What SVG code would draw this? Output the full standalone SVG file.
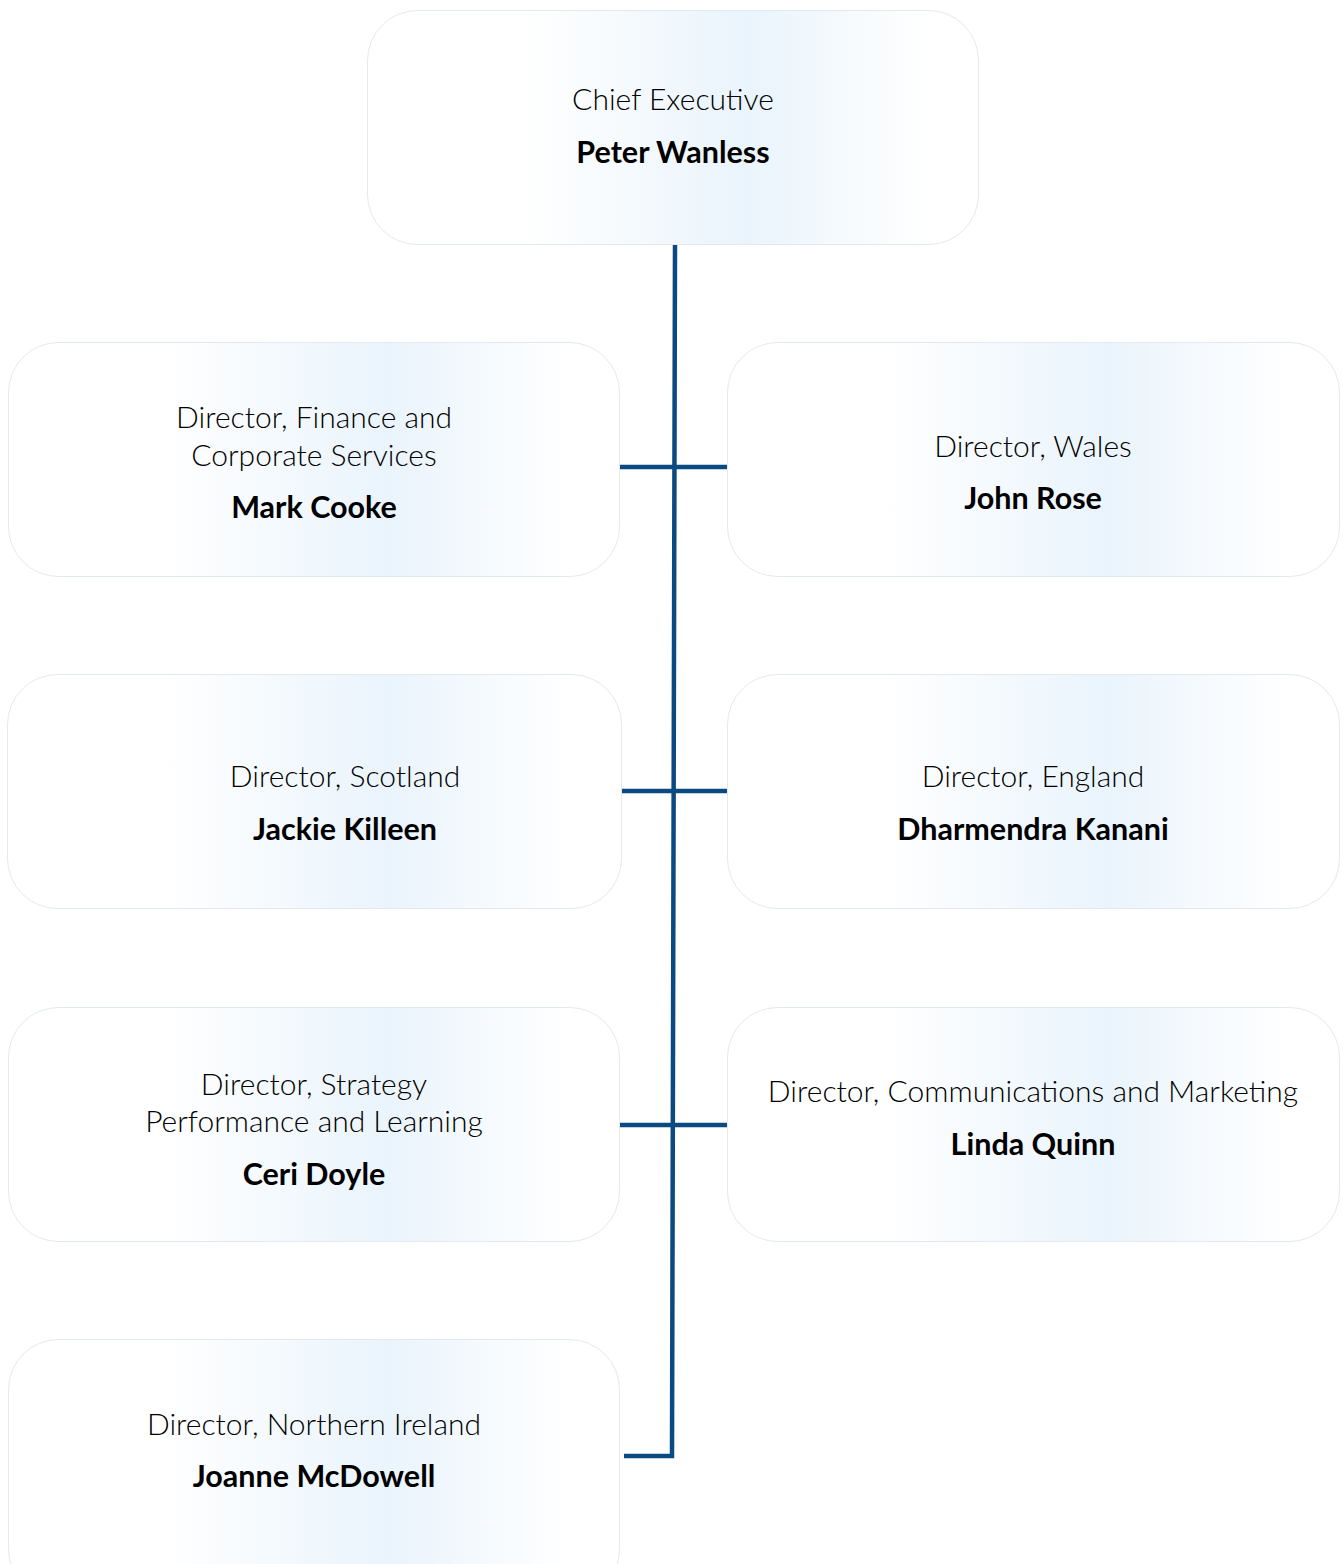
<svg xmlns="http://www.w3.org/2000/svg" width="1344" height="1564" viewBox="0 0 1344 1564">
<defs>
<linearGradient id="bg" x1="0" y1="0" x2="1" y2="0">
<stop offset="0" stop-color="#ffffff"/>
<stop offset="0.25" stop-color="#ffffff"/>
<stop offset="0.62" stop-color="#eaf4fc"/>
<stop offset="0.92" stop-color="#ffffff"/>
<stop offset="1" stop-color="#ffffff"/>
</linearGradient>
</defs>
<style>
.box{fill:url(#bg);stroke:#e2e9ef;stroke-width:1}
.t{font-family:Lato,"Liberation Sans",sans-serif;font-weight:300;font-size:30px;fill:#000;text-anchor:middle}
.n{font-family:Lato,"Liberation Sans",sans-serif;font-weight:700;font-size:30.5px;fill:#000;text-anchor:middle}
.c{stroke:#0b4a80;stroke-width:4.5;fill:none}
</style>
<rect width="1344" height="1564" fill="#ffffff"/>
<g id="connectors">
<polyline class="c" points="675,244 672,1456 624,1456"/>
<line class="c" x1="620" y1="467" x2="727" y2="467"/>
<line class="c" x1="620" y1="791" x2="727" y2="791"/>
<line class="c" x1="620" y1="1125" x2="727" y2="1125"/>
</g>
<g id="ceo">
<rect class="box" x="367.5" y="10.5" width="611" height="234" rx="50"/>
<text class="t" x="673" y="110">Chief Executive</text>
<text class="n" x="673" y="163">Peter Wanless</text>
</g>
<g id="finance">
<rect class="box" x="8.5" y="342.5" width="611" height="234" rx="50"/>
<text class="t" x="314" y="428">Director, Finance and</text>
<text class="t" x="314" y="466">Corporate Services</text>
<text class="n" x="314" y="518">Mark Cooke</text>
</g>
<g id="wales">
<rect class="box" x="727.5" y="342.5" width="612" height="234" rx="50"/>
<text class="t" x="1033" y="457">Director, Wales</text>
<text class="n" x="1033" y="509">John Rose</text>
</g>
<g id="scotland">
<rect class="box" x="7.5" y="674.5" width="614" height="234" rx="50"/>
<text class="t" x="345" y="787">Director, Scotland</text>
<text class="n" x="345" y="840">Jackie Killeen</text>
</g>
<g id="england">
<rect class="box" x="727.5" y="674.5" width="612" height="234" rx="50"/>
<text class="t" x="1033" y="787">Director, England</text>
<text class="n" x="1033" y="840">Dharmendra Kanani</text>
</g>
<g id="strategy">
<rect class="box" x="8.5" y="1007.5" width="611" height="234" rx="50"/>
<text class="t" x="314" y="1095">Director, Strategy</text>
<text class="t" x="314" y="1132">Performance and Learning</text>
<text class="n" x="314" y="1185">Ceri Doyle</text>
</g>
<g id="comms">
<rect class="box" x="727.5" y="1007.5" width="612" height="234" rx="50"/>
<text class="t" x="1033" y="1102">Director, Communications and Marketing</text>
<text class="n" x="1033" y="1155">Linda Quinn</text>
</g>
<g id="ni">
<rect class="box" x="8.5" y="1339.5" width="611" height="260" rx="50"/>
<text class="t" x="314" y="1435">Director, Northern Ireland</text>
<text class="n" x="314" y="1487">Joanne McDowell</text>
</g>
</svg>
